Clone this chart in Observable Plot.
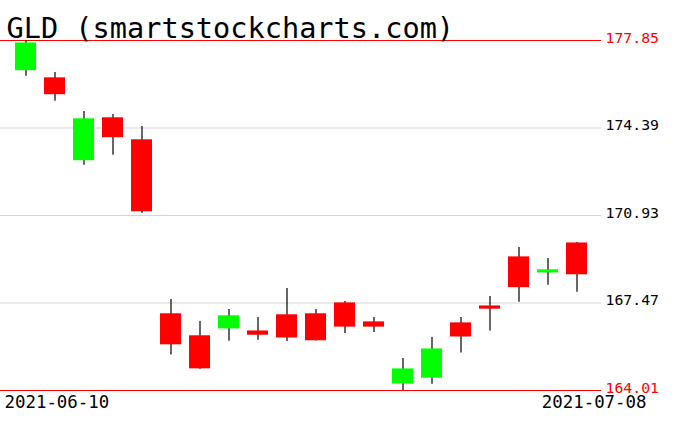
<!DOCTYPE html>
<html>
<head>
<meta charset="utf-8">
<script src="https://cdn.jsdelivr.net/npm/d3@7"></script>
<script src="https://cdn.jsdelivr.net/npm/@observablehq/plot@0.6"></script>
<style>
  html, body { margin: 0; padding: 0; background: #fff; }
  #chart svg { display: block; }
</style>
</head>
<body>
<div id="chart"></div>
<script>
const title = "GLD (smartstockcharts.com)";
const dates = ["2021-06-10","2021-06-11","2021-06-14","2021-06-15","2021-06-16","2021-06-17","2021-06-18","2021-06-21","2021-06-22","2021-06-23","2021-06-24","2021-06-25","2021-06-28","2021-06-29","2021-06-30","2021-07-01","2021-07-02","2021-07-06","2021-07-07","2021-07-08"];
const open  = [176.68,176.35,173.12,174.77,173.90,167.02,166.15,166.47,166.34,166.98,167.02,167.45,166.70,164.29,164.52,166.66,167.33,169.27,168.68,169.82];
const close = [177.73,175.73,174.73,174.03,171.10,165.84,164.89,166.94,166.22,166.11,166.00,166.54,166.54,164.84,165.63,166.15,167.25,168.10,168.76,168.61];
const high  = [177.85,176.58,175.04,174.92,174.45,167.61,166.74,167.21,166.90,168.04,167.21,167.53,166.90,165.28,166.11,166.90,167.73,169.66,169.23,169.86];
const low   = [176.44,175.45,172.92,173.31,171.02,165.41,164.85,165.96,166.00,165.95,165.97,166.26,166.30,164.01,164.26,165.49,166.36,167.50,168.17,167.90];
const gridLevels = [174.39, 170.93, 167.47];
const limitLevels = [177.85, 164.01];
const dateLabels = ["2021-06-10", "2021-07-08"];

const data = dates.map((d, i) => ({
  date: d, open: open[i], close: close[i], high: high[i], low: low[i],
  up: close[i] >= open[i]
}));

const mono = "DejaVu Sans Mono";

const chart = Plot.plot({
  width: 676,
  height: 431,
  marginTop: 40,
  marginBottom: 41,
  marginLeft: 0,
  marginRight: 75,
  style: { background: "#fff", fontFamily: mono },
  x: { type: "band", domain: dates, range: [5.76, 595.24], paddingInner: 0.29, paddingOuter: 0.145, axis: null },
  y: { domain: [164.01, 177.85], axis: null },
  marks: [
    Plot.ruleY(gridLevels, { stroke: "#d3d3d3", strokeWidth: 1 }),
    Plot.ruleY(limitLevels, { stroke: "#ff0000", strokeWidth: 1 }),
    Plot.ruleX(data, { x: "date", y1: "low", y2: "high", stroke: "#000", strokeWidth: 1.2 }),
    Plot.rectY(data, {
      x: "date",
      y1: d => Math.max(d.open, d.close),
      y2: d => Math.min(d.open, d.close),
      fill: d => d.up ? "#00ff00" : "#ff0000",
      insetTop: -0.6, insetBottom: -0.6
    }),
    Plot.text(gridLevels, {
      y: d => d, text: d => d.toFixed(2), frameAnchor: "right",
      textAnchor: "start", lineAnchor: "bottom", dx: 4, dy: 2,
      fontSize: 14.8, fill: "#000"
    }),
    Plot.text(limitLevels, {
      y: d => d, text: d => d.toFixed(2), frameAnchor: "right",
      textAnchor: "start", lineAnchor: "bottom", dx: 4, dy: 2,
      fontSize: 14.8, fill: "#ff0000"
    }),
    Plot.text([dateLabels[0]], {
      text: d => d, frameAnchor: "bottom-left", textAnchor: "start",
      lineAnchor: "bottom", dx: 4, dy: 17, fontSize: 17.4, fill: "#000"
    }),
    Plot.text([dateLabels[1]], {
      text: d => d, frameAnchor: "bottom-right", textAnchor: "end",
      lineAnchor: "bottom", dx: 45, dy: 17, fontSize: 17.4, fill: "#000"
    }),
    Plot.text([title], {
      text: d => d, frameAnchor: "top-left", textAnchor: "start",
      lineAnchor: "bottom", dx: 6, dy: -3, fontSize: 28.6, fill: "#000"
    })
  ]
});
document.getElementById("chart").appendChild(chart);
</script>
</body>
</html>
